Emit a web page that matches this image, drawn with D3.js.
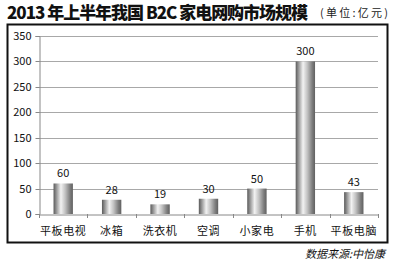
<!DOCTYPE html>
<html><head><meta charset="utf-8">
<script src="https://cdn.jsdelivr.net/npm/d3@7"></script>
<style>body{margin:0;background:#fff}svg{display:block}</style>
</head><body>
<svg id="c" width="395" height="264"></svg>
<script>
const categories = ["平板电视","冰箱","洗衣机","空调","小家电","手机","平板电脑"];
const values = [60,28,19,30,50,300,43];
const yTicks = [0,50,100,150,200,250,300,350];
const titleText = "2013 年上半年我国 B2C 家电网购市场规模";
const unitText = "(单位:亿元)";
const sourceText = "数据来源:中怡康";

const svg = d3.select("#c");
const font = "'Noto Sans CJK SC', 'Noto Sans', sans-serif";

const defs = svg.append("defs");
const grad = defs.append("linearGradient").attr("id","bar").attr("x1","0").attr("x2","1").attr("y1","0").attr("y2","0");
[[0,"#5a5a5a"],[0.12,"#8a8a8a"],[0.38,"#f2f2f2"],[0.6,"#c2c2c2"],[0.85,"#7e7e7e"],[1,"#606060"]]
  .forEach(([o,c])=>grad.append("stop").attr("offset",o).attr("stop-color",c));

svg.append("text").attr("x",7).attr("y",19).attr("font-family",font).attr("font-weight",900)
  .attr("font-size",17).attr("fill","#111").attr("textLength",301).attr("lengthAdjust","spacing").text(titleText);
svg.append("text").attr("x",320).attr("y",17).attr("font-family",font)
  .attr("font-size",11).attr("fill","#222").attr("textLength",68).attr("lengthAdjust","spacing").text(unitText);

svg.append("rect").attr("x",7.5).attr("y",24.5).attr("width",380).attr("height",218)
  .attr("fill","#fff").attr("stroke","#111").attr("stroke-width",2);

const x = d3.scaleBand().domain(categories).range([39,378]).paddingInner(0.6).paddingOuter(0.3);
const xb = d3.scaleBand().domain(categories).range([39,378]);
const y = d3.scaleLinear().domain([0,350]).range([214,36]);

const g = svg.append("g");
g.selectAll("line.grid").data(yTicks.filter(d=>d>0)).join("line").attr("class","grid")
  .attr("x1",39).attr("x2",378).attr("y1",d=>Math.round(y(d))+0.5).attr("y2",d=>Math.round(y(d))+0.5)
  .attr("stroke","#a8a8a8").attr("stroke-width",1);

const yAxis = g.append("g").attr("transform","translate(39.5,0)")
  .call(d3.axisLeft(y).tickValues(yTicks).tickSize(4).tickPadding(4));
yAxis.select(".domain").attr("stroke","#888");
yAxis.selectAll(".tick line").attr("stroke","#888");
yAxis.selectAll("text").attr("font-family",font).attr("font-size",11).attr("fill","#111");
yAxis.selectAll(".tick").attr("transform",d=>`translate(0,${Math.round(y(d))+0.5})`);

g.selectAll("rect.bar").data(values).join("rect").attr("class","bar")
  .attr("x",(d,i)=>x(categories[i])).attr("width",x.bandwidth())
  .attr("y",d=>y(d)).attr("height",d=>y(0)-y(d)).attr("fill","url(#bar)");

const xAxis = g.append("g").attr("transform",`translate(0,${Math.round(y(0))+0.5})`)
  .call(d3.axisBottom(xb).tickSize(0).tickPadding(13));
xAxis.select(".domain").attr("stroke","#888");
xAxis.selectAll("text").attr("font-family",font).attr("font-size",11).attr("letter-spacing",0.6).attr("fill","#111");
g.selectAll("line.xt").data(categories.concat(["end"])).join("line").attr("class","xt")
  .attr("x1",(d,i)=>Math.round(i<categories.length?xb(d):378)+0.5).attr("x2",(d,i)=>Math.round(i<categories.length?xb(d):378)+0.5)
  .attr("y1",Math.round(y(0))).attr("y2",Math.round(y(0))+4).attr("stroke","#888");

g.selectAll("text.val").data(values).join("text").attr("class","val")
  .attr("x",(d,i)=>x(categories[i])+x.bandwidth()/2).attr("y",d=>y(d)-6)
  .attr("text-anchor","middle").attr("font-family",font).attr("font-size",11).attr("fill","#111").text(d=>d);

svg.append("text").attr("x",385).attr("y",258).attr("text-anchor","end").attr("font-family",font)
  .attr("font-size",11).attr("font-style","italic").attr("fill","#111").text(sourceText);
</script>
</body></html>
